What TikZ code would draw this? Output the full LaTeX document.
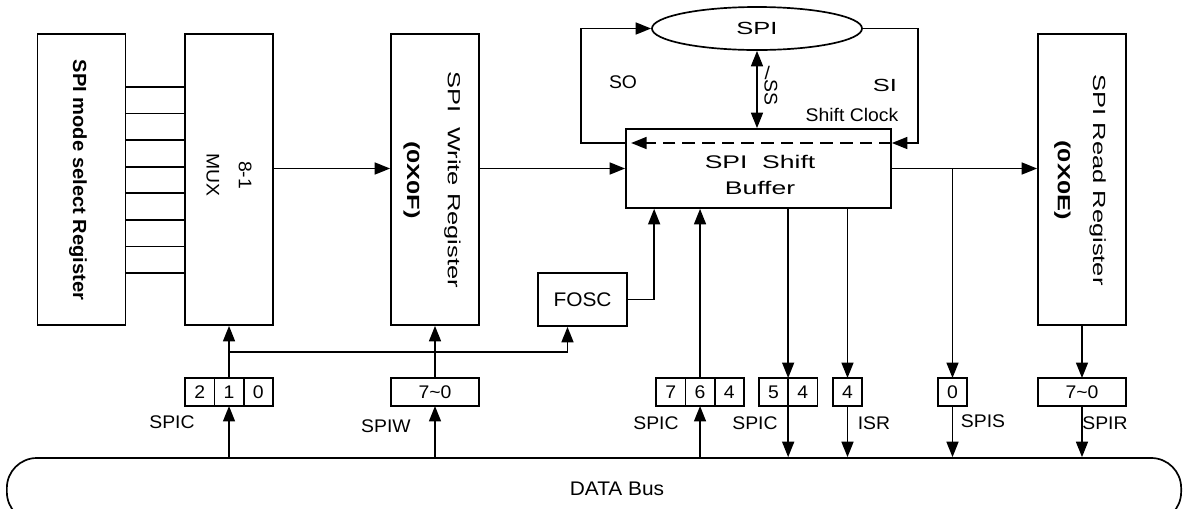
\documentclass[tikz,border=0pt]{standalone}
\usepackage{fontspec}
\setmainfont{Liberation Sans}[FakeStretch=1.06]
\newfontfamily\widefont{Liberation Sans}[FakeStretch=1.45]
\usetikzlibrary{arrows.meta,positioning,shapes.geometric,calc}

\begin{document}
\begin{tikzpicture}[x=0.025cm, y=-0.025cm,
    every node/.style={font=\fontsize{13}{15}\selectfont},
    blk/.style={draw, line width=1.2pt, minimum width=2.2cm, minimum height=7.275cm},
    bit/.style={draw, line width=1.2pt, minimum width=0.733cm, minimum height=0.7cm, inner sep=0pt, outer sep=0pt},
    arr/.style={line width=1.2pt, -{Triangle[length=11pt,width=8.5pt]}}]
    \useasboundingbox (0,0) rectangle (1184,508);
    \clip (0,0) rectangle (1184,508);

    % blocks
    \node[blk] (mode) at (81.5,179.5) {};
    \node[blk] (mux) at (229,179.5) {};
    \node[blk] (write) at (435,179.5) {};
    \node[blk] (read) at (1082,179.5) {};
    \node[draw, line width=1.2pt, minimum width=6.625cm, minimum height=1.975cm] (buf) at (758.5,168.5) {};
    \node[draw, line width=1.2pt, minimum width=2.225cm, minimum height=1.325cm,
        font=\fontsize{14}{16}\selectfont] (fosc) at (582.5,299.5) {FOSC};
    \node[draw, ellipse, line width=1.2pt, minimum width=5.25cm, minimum height=1.075cm, inner sep=0pt,
        font=\widefont\fontsize{12.5}{14}\selectfont] (spi) at (757,28.5) {SPI};
    \node[draw, line width=1.2pt, rounded corners=0.75cm, minimum width=29.35cm, minimum height=1.6cm] (bus) at (594,490) {};

    % texts in the blocks
    \node[rotate=-90, font=\bfseries\fontsize{13.5}{15}\selectfont] (modetxt) at (78,180) {SPI mode select Register};
    \node[rotate=-90, align=center, font=\fontsize{13}{15}\selectfont] (muxtxt) at (229,175) {8-1\\[8pt]MUX};
    \node[rotate=-90, align=center, font=\widefont\fontsize{12.5}{15}\selectfont] (writetxt) at (432,180)
        {SPI\ \ Write Register\\[14pt]\textbf{(0X0F)}};
    \node[rotate=-90, align=center, font=\widefont\fontsize{12.5}{15}\selectfont] (readtxt) at (1080,180)
        {SPI Read Register\\[10pt]\textbf{(0X0E)}};
    \node[align=center, font=\widefont\fontsize{13}{18}\selectfont] (buftxt) at (760,175) {SPI\ \ Shift\\Buffer};
    \node[font=\fontsize{14}{16}\selectfont] (bustxt) at (617,489) {DATA Bus};

    % bit boxes
    \node[bit] (s2) at (199.7,392) {2};
    \node[bit, right=0pt of s2] (s1) {1};
    \node[bit, right=0pt of s1] (s0) {0};
    \node[bit, minimum width=2.2cm] (w70) at (435,392) {7\textasciitilde0};
    \node[bit] (c7) at (670.7,392) {7};
    \node[bit, right=0pt of c7] (c6) {6};
    \node[bit, right=0pt of c6] (c4) {4};
    \node[bit] (d5) at (773.5,392) {5};
    \node[bit, right=0pt of d5] (d4) {4};
    \node[bit] (i4) at (847.5,392) {4};
    \node[bit] (z0) at (952.5,392) {0};
    \node[bit, minimum width=2.2cm] (r70) at (1082,392) {7\textasciitilde0};

    % labels
    \node (spica) at (172,422) {SPIC};
    \node (spiw) at (386,426) {SPIW};
    \node (spicb) at (656,423) {SPIC};
    \node (spicc) at (755,423) {SPIC};
    \node (isr) at (874,423) {ISR};
    \node (spis) at (983,421) {SPIS};
    \node (spir) at (1105,423) {SPIR};
    \node (so) at (623,82) {SO};
    \node[font=\widefont\fontsize{12.5}{14}\selectfont] (si) at (885,85) {SI};
    \node (clk) at (852,115) {Shift Clock};
    \node[rotate=-90] (ss) at (771,86) {\rotatebox{90}{/}SS};

    \coordinate (sh) at (758,143);
    \coordinate (selrow) at (0,352);

    % mode select lines
    \foreach \i in {0,...,7} {
        \coordinate (m\i) at (0,{87+26.57*\i});
        \draw[line width=1.2pt] (mode.east |- m\i) -- (mux.west |- m\i);
    }

    % data path
    \draw[arr] (mux.east |- buf.west) -- (write.west |- buf.west);
    \draw[arr] (write.east |- buf.west) -- (buf.west);
    \draw[arr] (buf.east) -- (read.west |- buf.east);
    \draw[arr] (z0 |- buf.east) -- (z0.north);
    \draw[arr] (z0.south) -- (z0 |- bus.north);

    % SPI loop
    \draw[arr] (buf.west |- sh) -- ++(-44,0) |- (spi.west);
    \draw[arr] (spi.east) -- ++(55,0) |- (buf.east |- sh);
    \draw[arr, dash pattern=on 9pt off 5pt] (buf.east |- sh) -- ($(buf.west |- sh)+(6,0)$);
    \draw[line width=1.2pt, {Triangle[length=11pt,width=8.5pt]}-{Triangle[length=11pt,width=8.5pt]}]
        (spi.south) -- (spi.south |- buf.north);

    % clock
    \draw[arr] (fosc.east) -| ($(buf.south west)+(29,0)$);
    \draw[arr] (s1 |- selrow) -| ($(fosc.south)+(-15,0)$);

    % bus connections
    \draw[arr] (s1 |- bus.north) -- (s1.south);
    \draw[arr] (s1.north) -- (mux.south -| s1);
    \draw[arr] (w70 |- bus.north) -- (w70.south);
    \draw[arr] (w70.north) -- (write.south);
    \draw[arr] (c6 |- bus.north) -- (c6.south);
    \draw[arr] (c6.north) -- (c6 |- buf.south);
    \draw[arr] (d5.east |- buf.south) -- (d5.north east);
    \draw[arr] (d5.south east) -- (d5.east |- bus.north);
    \draw[arr] (i4 |- buf.south) -- (i4.north);
    \draw[arr] (i4.south) -- (i4 |- bus.north);
    \draw[arr] (read.south) -- (r70.north);
    \draw[arr] (r70.south) -- (r70 |- bus.north);
\end{tikzpicture}
\end{document}
